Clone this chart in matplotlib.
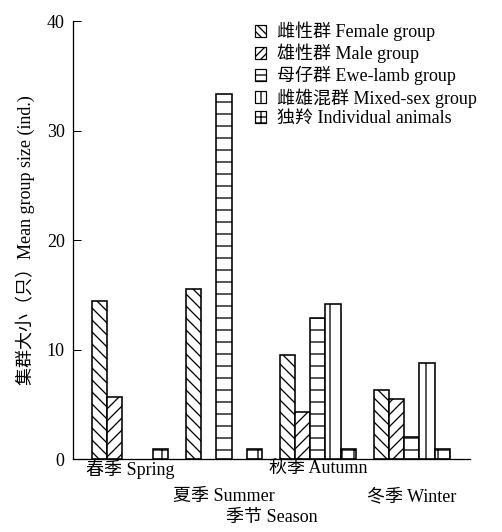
import numpy as np
import matplotlib
matplotlib.use("Agg")
import matplotlib.pyplot as plt
from matplotlib.patches import Patch

# values
seasons = ["春季 Spring", "夏季 Summer", "秋季 Autumn", "冬季 Winter"]
female = [14.4, 15.5, 9.5, 6.3]
male = [5.7, 0.0, 4.3, 5.45]
ewe_lamb = [0.0, 33.3, 12.9, 2.0]
mixed = [0.0, 0.0, 14.2, 8.8]
individual = [0.9, 0.9, 0.9, 0.9]

series_labels = [
    "雌性群 Female group",
    "雄性群 Male group",
    "母仔群 Ewe-lamb group",
    "雌雄混群 Mixed-sex group",
    "独羚 Individual animals",
]
hatches = ["\\\\", "//", "-", "|", "+"]
# the small legend keys need a finer pattern to show a line at all
legend_hatches = ["\\\\\\", "///", "--", "||", "++"]

plt.rcParams["font.family"] = ["Liberation Serif", "Noto Sans CJK SC"]
plt.rcParams["hatch.linewidth"] = 1.3

FS = 18
DPI = 72
fig = plt.figure(figsize=(502 / DPI, 532 / DPI), dpi=DPI)
ax = fig.add_axes([0.1448, 0.1372, 0.7915, 0.8233])

x = np.arange(len(seasons))
width = 0.162
all_series = [female, male, ewe_lamb, mixed, individual]
for i, (vals, h) in enumerate(zip(all_series, hatches)):
    heights = np.array(vals)
    pos = x + (i - 2) * width
    show = heights > 0
    ax.bar(pos[show], heights[show], width=width, facecolor="white",
           edgecolor="black", linewidth=1.6, hatch=h)

ax.set_xlim(-0.61, 3.62)
ax.set_ylim(0, 40)
ax.set_yticks([0, 10, 20, 30, 40])
ax.tick_params(axis="y", direction="in", length=8, width=1, labelsize=FS, pad=8)
ax.set_xticks(x)
ax.set_xticklabels([s if k % 2 == 0 else "\n" + s for k, s in enumerate(seasons)],
                   fontsize=FS, linespacing=1.85)
ax.tick_params(axis="x", length=0, pad=1)

for side in ["top", "right"]:
    ax.spines[side].set_visible(False)
for side in ["left", "bottom"]:
    ax.spines[side].set_linewidth(1.3)

ax.set_ylabel("集群大小（只）Mean group size (ind.)", fontsize=FS, labelpad=12)
ax.set_xlabel("季节 Season", fontsize=FS, labelpad=4)

handles = [Patch(facecolor="white", edgecolor="black", linewidth=1.2, hatch=h)
           for h in legend_hatches]
ax.legend(handles, series_labels, loc="upper left", bbox_to_anchor=(0.44, 1.015),
          frameon=False, fontsize=FS, handlelength=0.65, handleheight=0.65,
          handletextpad=0.6, labelspacing=0.15, borderaxespad=0)

fig.savefig("out.png", dpi=DPI)
